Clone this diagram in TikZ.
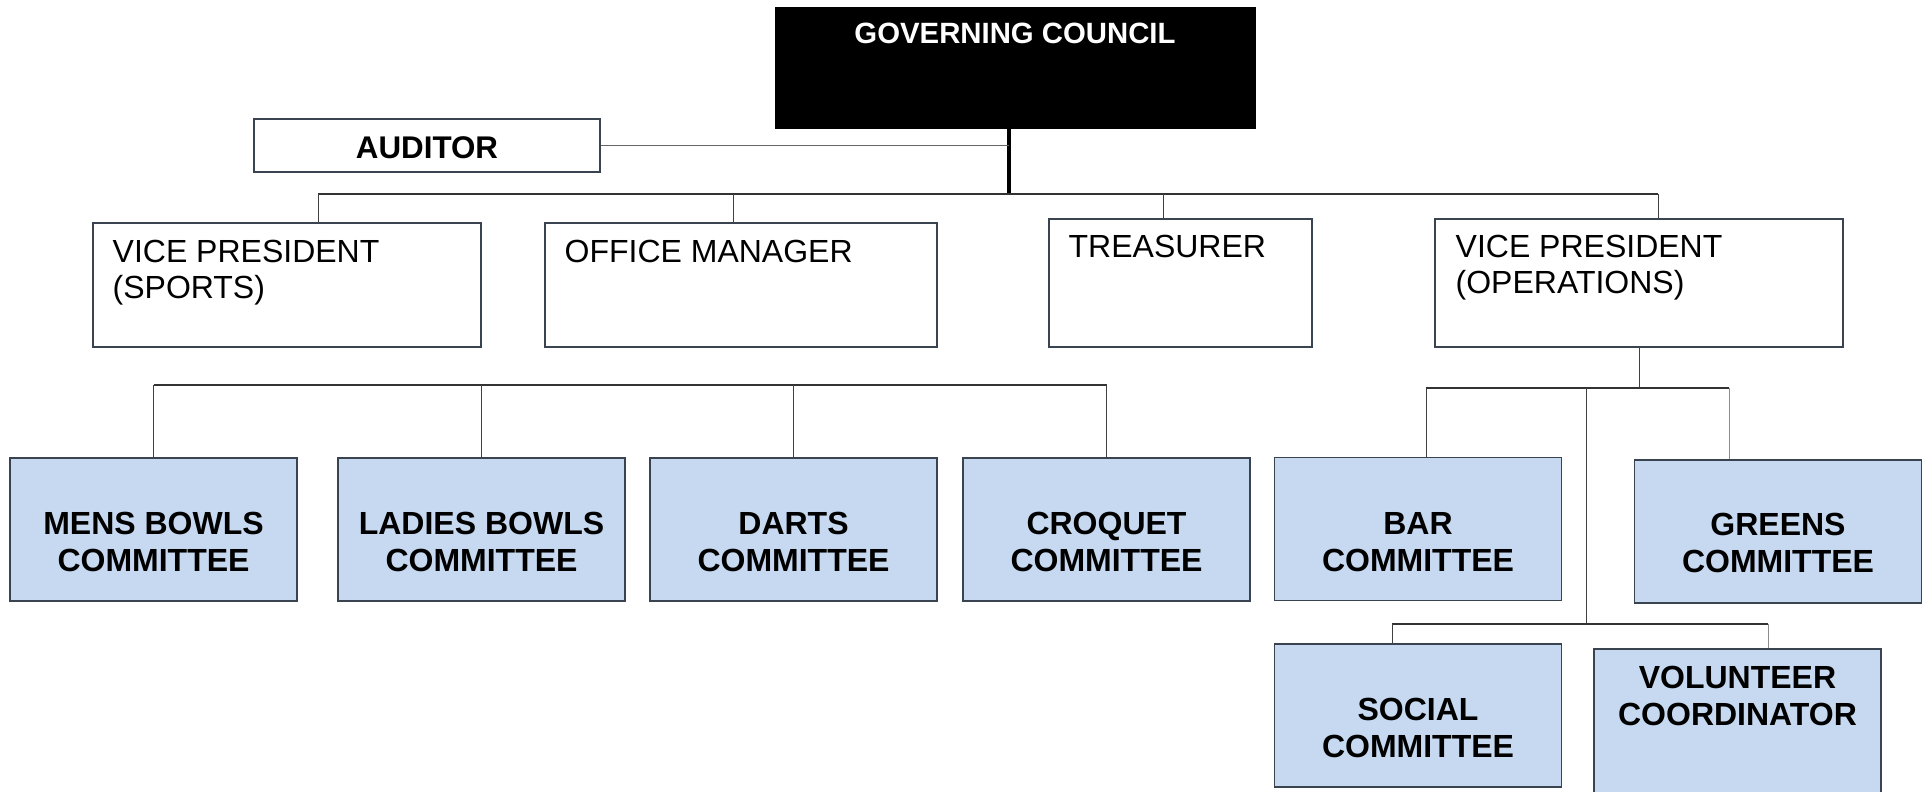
\documentclass[tikz,border=0pt]{standalone}
\usepackage{fontspec}
\setmainfont{Liberation Sans}
\usepackage{xcolor}
\usepackage{tikz}
\usetikzlibrary{calc}

\definecolor{cttfill}{HTML}{C6D9F1}
\definecolor{boxline}{HTML}{3A4450}

\begin{document}
\begin{tikzpicture}[
  x=0.75pt, y=-0.75pt,
  post/.style={draw=boxline, line width=0.9pt, fill=white, rectangle, inner sep=0pt},
  cttee/.style={draw=boxline, line width=0.9pt, fill=cttfill, rectangle, inner sep=0pt,
    minimum width=215.25pt, minimum height=107.25pt},
  lbl/.style={inner sep=0pt, align=left, anchor=north west, font=\fontsize{24}{27}\selectfont},
  clbl/.style={inner sep=0pt, align=center, font=\bfseries\fontsize{24}{27.75}\selectfont},
  link/.style={draw=black!75, line width=0.75pt},
  bus/.style={draw=black!80, line width=1.3pt}
]
\useasboundingbox (0,0) rectangle (1923,792);
\clip (0,0) rectangle (1923,792);
\fill[white] (0,0) rectangle (1923,792);

% top of the tree
\node[draw=black, fill=black, minimum width=360pt, minimum height=90.75pt] (gc) at (1015,67.5) {};
\node[inner sep=0pt, anchor=north, text=white, font=\bfseries\fontsize{22}{26}\selectfont] (gc-t)
  at ($(gc.north)+(0,16)$) {GOVERNING COUNCIL};
\node[post, minimum width=259.5pt, minimum height=39.75pt] (aud) at (427,145.5) {};
\node[inner sep=0pt, font=\bfseries\fontsize{23.5}{28}\selectfont] (aud-t)
  at ($(aud.center)+(0,2)$) {AUDITOR};

% officers
\node[post, minimum width=291pt, minimum height=93pt] (vps) at (287,285) {};
\node[post, minimum width=294pt, minimum height=93pt] (om) at (741,285) {};
\node[post, minimum width=197.25pt, minimum height=96pt] (tr) at (1180.5,283) {};
\node[post, minimum width=306pt, minimum height=96pt] (vpo) at (1639,283) {};
\node[lbl] (vps-t) at ($(vps.north west)+(20,17)$) {VICE PRESIDENT\\(SPORTS)};
\node[lbl] (om-t) at ($(om.north west)+(20,17)$) {OFFICE MANAGER};
\node[lbl] (tr-t) at ($(tr.north west)+(20,16)$) {TREASURER};
\node[lbl] (vpo-t) at ($(vpo.north west)+(21,16)$) {VICE PRESIDENT\\(OPERATIONS)};

% committees
\node[cttee] (mens) at (153.5,529.5) {};
\node[cttee] (ladies) at (481.5,529.5) {};
\node[cttee] (darts) at (793.5,529.5) {};
\node[cttee] (croq) at (1106.5,529.5) {};
\node[cttee] (bar) at (1418,529) {};
\node[cttee] (greens) at (1778,531.5) {};
\node[cttee] (social) at (1418,715.5) {};
\node[cttee, minimum height=120.75pt] (vol) at (1737.5,729.5) {};
\node[clbl] (mens-t) at ($(mens.center)+(0,12.5)$) {MENS BOWLS\\COMMITTEE};
\node[clbl] (ladies-t) at ($(ladies.center)+(0,12.5)$) {LADIES BOWLS\\COMMITTEE};
\node[clbl] (darts-t) at ($(darts.center)+(0,12.5)$) {DARTS\\COMMITTEE};
\node[clbl] (croq-t) at ($(croq.center)+(0,12.5)$) {CROQUET\\COMMITTEE};
\node[clbl] (bar-t) at ($(bar.center)+(0,13)$) {BAR\\COMMITTEE};
\node[clbl] (greens-t) at ($(greens.center)+(0,11.5)$) {GREENS\\COMMITTEE};
\node[clbl] (social-t) at ($(social.center)+(0,12.5)$) {SOCIAL\\COMMITTEE};
\node[clbl, anchor=north] (vol-t) at ($(vol.north)+(0,17)$) {VOLUNTEER\\COORDINATOR};

% bus points
\coordinate (trunk) at (1009,194);
\coordinate (b-vps) at (318,194);
\coordinate (b-om) at (733,194);
\coordinate (b-tr) at (1163,194);
\coordinate (b-vpo) at (1658,194);
\coordinate (sbus) at (0,385);
\coordinate (b-bar) at (1426,388);
\coordinate (b-br) at (1586,388);
\coordinate (b-gr) at (1729,388);
\coordinate (b-soc) at (1392,624);
\coordinate (b-vol) at (1768,624);

% council to officers
\draw[line width=3pt] (trunk |- gc.south) -- (trunk);
\draw[link, draw=black!60, line width=1.1pt] (aud.east) -- (aud.east -| trunk);
\draw[bus] (b-vps) -- (b-vpo);
\foreach \b/\n in {b-vps/vps, b-om/om, b-tr/tr, b-vpo/vpo}
  \draw[link] (\b) -- (\b |- \n.north);

% sports committees
\draw[bus] (mens.north |- sbus) -- (croq.north |- sbus);
\foreach \n in {mens, ladies, darts, croq}
  \draw[link] (\n.north |- sbus) -- (\n.north);

% operations committees
\draw[link] (vpo.south) -- (vpo.south |- b-bar);
\draw[bus] (b-bar) -- (b-gr);
\draw[link] (b-bar) -- (b-bar |- bar.north);
\draw[link, draw=black!45] (b-gr) -- (b-gr |- greens.north);
\draw[link] (b-br) -- (b-br |- b-soc);
\draw[bus] (b-soc) -- (b-vol);
\draw[link] (b-soc) -- (b-soc |- social.north);
\draw[link, draw=black!45] (b-vol) -- (b-vol |- vol.north);
\end{tikzpicture}
\end{document}
